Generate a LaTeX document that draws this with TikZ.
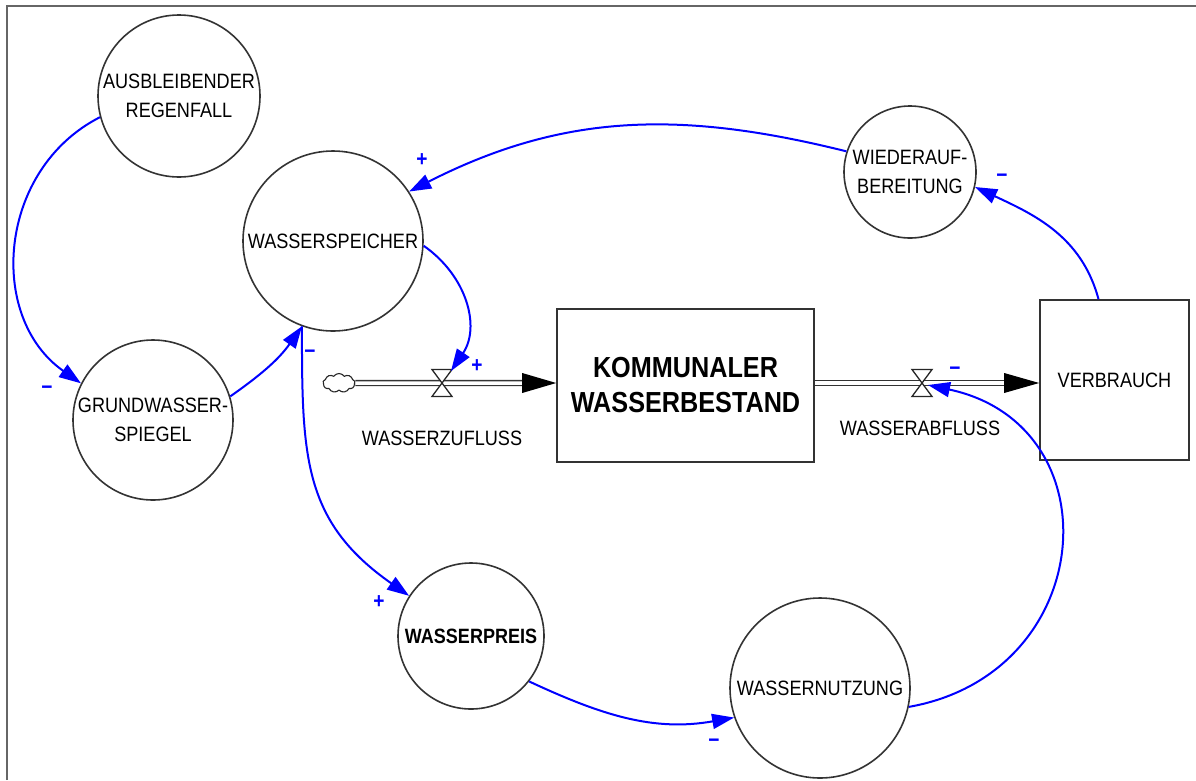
\documentclass[tikz,border=0pt]{standalone}
\usepackage{fontspec}
\setmainfont[FakeStretch=0.87]{Liberation Sans}
\usetikzlibrary{arrows.meta,shapes.symbols}
\begin{document}
\begin{tikzpicture}[x=1pt,y=-1pt,
  var/.style={circle,draw=black!80,line width=1.6pt,minimum size=#1,inner sep=0pt,align=center,font=\fontsize{20.8}{29}\selectfont},
  stockbox/.style={rectangle,draw=black!80,line width=1.6pt,inner sep=0pt,align=center},
  link/.style={draw=blue,line width=2pt,-{Triangle[length=22pt,width=15pt]}},
  pol/.style={text=blue,font=\bfseries\fontsize{22}{22}\selectfont,inner sep=0pt},
  pipe/.style={draw=black!80,double=white,double distance=3.5pt,line width=1.4pt},
  valve/.style={draw=black!85,fill=white,line width=1.3pt},
  lbl/.style={font=\fontsize{20.8}{24}\selectfont,inner sep=0pt}]
\useasboundingbox (0,0) rectangle (1196,780);
\fill[white] (0,0) rectangle (1196,780);
\draw[black!60,line width=1.4pt] (7,780) -- (7,6) -- (1196,6);

% variables
\node[var=162pt] (aus) at (179,96) {AUSBLEIBENDER\\REGENFALL};
\node[var=160pt] (grund) at (153,420) {GRUNDWASSER-\\SPIEGEL};
\node[var=180pt] (speicher) at (333,241) {WASSERSPEICHER};
\node[var=132pt] (wieder) at (910,172) {WIEDERAUF-\\BEREITUNG};
\node[var=146pt,font=\bfseries\fontsize{20.7}{24}\selectfont] (preis) at (471,636) {WASSERPREIS};
\node[var=180pt] (nutzung) at (820,688) {WASSERNUTZUNG};

% stocks
\node[stockbox,minimum width=257pt,minimum height=153pt,font=\bfseries\fontsize{29}{35}\selectfont] (stock) at (685.5,385.5) {KOMMUNALER\\WASSERBESTAND};
\node[stockbox,minimum width=149pt,minimum height=160pt,font=\fontsize{20.8}{24}\selectfont] (verb) at (1114.5,380) {VERBRAUCH};

% flows
\node[cloud,draw=black!85,line width=1.1pt,cloud puffs=9,cloud puff arc=110,aspect=1.7,minimum width=32pt,minimum height=19pt,inner sep=0pt] (cloud) at (339,383) {};
\coordinate (vin) at (442,383);
\coordinate (vout) at (922,383);
\coordinate (vinTip) at (451,371);
\coordinate (voutTip) at (928,385);

\draw[pipe,shorten >=33pt] (cloud.east) -- (vin -| stock.west);
\fill[black] (vin -| stock.west) -- ++(-34,-10) -- ++(0,20) -- cycle;
\draw[pipe,shorten >=34pt] (vout -| stock.east) -- (vout -| verb.west);
\fill[black] (vout -| verb.west) -- ++(-35,-10) -- ++(0,20) -- cycle;
\draw[valve,shift={(vin)}] (-10,-13.5) -- (10,-13.5) -- (-10,13.5) -- (10,13.5) -- cycle;
\draw[valve,shift={(vout)}] (-10,-13.5) -- (10,-13.5) -- (-10,13.5) -- (10,13.5) -- cycle;

\node[lbl] (zufluss) at (442,438) {WASSERZUFLUSS};
\node[lbl] (abfluss) at (920,428) {WASSERABFLUSS};

% causal links
\draw[link] (aus.195) to[out=207,in=145,distance=115pt] (grund.153);
\draw[link] (grund.17) to[out=35,in=235] (speicher.250);
\draw[link] (speicher.250) to[out=270,in=145,distance=130pt] (preis.147);
\draw[link] (speicher.-3) to[out=-35,in=56,distance=53pt] (vinTip);
\draw[link] (wieder.162) to[out=166,in=27] (speicher.33.5);
\draw[link] ([xshift=-16pt]verb.north) to[out=105,in=-25] (wieder.-13);
\draw[link] (preis.-38) to[out=-25,in=190] (nutzung.199);
\draw[link] (nutzung.-12) to[out=10,in=-12,distance=192pt] (voutTip);

% polarities
\node[pol] (p1) at (47,390) {−};
\node[pol] (p2) at (310,354) {−};
\node[pol] (p3) at (379,602) {+};
\node[pol] (p4) at (477,366) {+};
\node[pol] (p5) at (422,160) {+};
\node[pol] (p6) at (1002,178) {−};
\node[pol] (p7) at (714,743) {−};
\node[pol] (p8) at (955,371) {−};
\end{tikzpicture}
\end{document}
